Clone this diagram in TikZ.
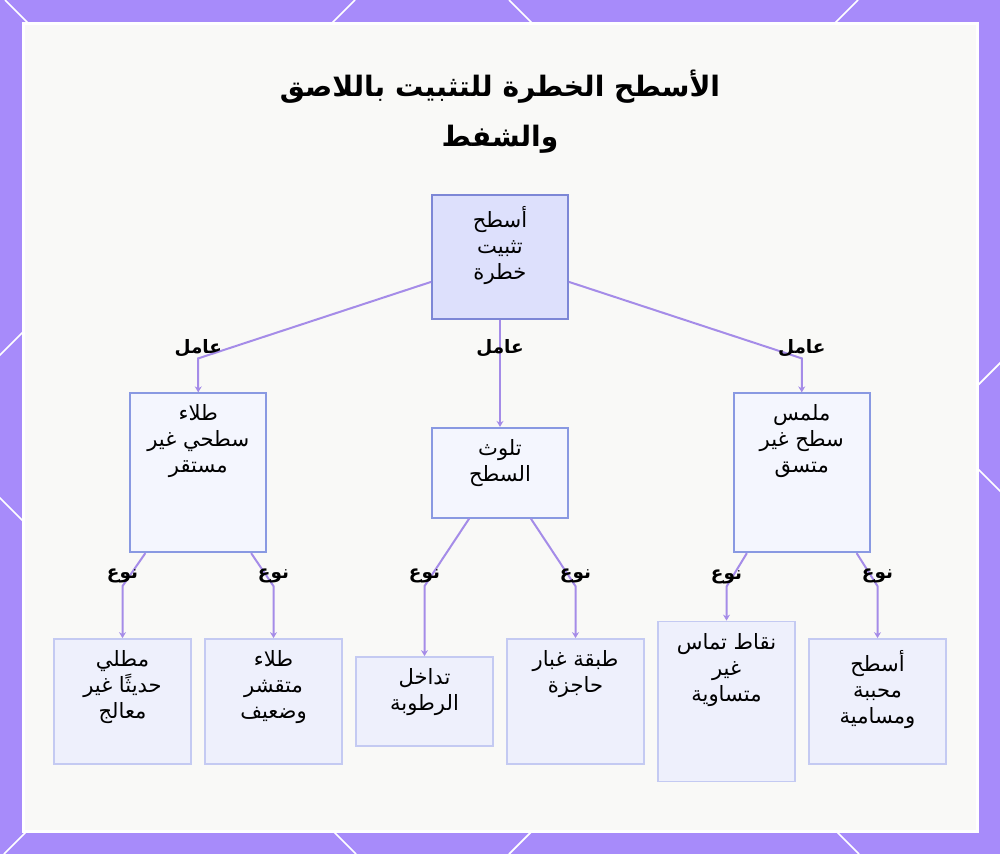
\documentclass[tikz,border=0pt]{standalone}
\usepackage{fontspec}
\newfontfamily\arabicfont[Script=Arabic]{DejaVu Sans}
\TeXXeTstate=1
\usetikzlibrary{positioning,calc,arrows.meta}
\definecolor{framepurple}{RGB}{167,139,250}
\definecolor{edgepurple}{RGB}{165,140,232}
\definecolor{panelgray}{RGB}{249,249,247}
\definecolor{rootfill}{RGB}{221,224,252}
\definecolor{rootline}{RGB}{125,135,214}
\definecolor{factfill}{RGB}{244,246,254}
\definecolor{factline}{RGB}{137,153,226}
\definecolor{kindfill}{RGB}{238,240,252}
\definecolor{kindline}{RGB}{196,202,242}

\begin{document}
\begin{tikzpicture}[
            x=0.2mm, y=-0.2mm,
            node distance=2.45mm, % gap between the bottom boxes
            rootbox/.style={rectangle, draw=rootline, fill=rootfill, line width=0.35mm, minimum width=27.2mm, minimum height=24.8mm},
            factbox/.style={rectangle, draw=factline, fill=factfill, line width=0.35mm, minimum width=27.2mm},
            kindbox/.style={rectangle, draw=kindline, fill=kindfill, line width=0.35mm, minimum width=27.4mm},
            boxtext/.style={anchor=north, yshift=-2.4mm, inner sep=0pt, align=center, font=\fontsize{12}{14.8}\selectfont\arabicfont},
            edge/.style={draw=edgepurple, line width=0.4mm, -{Stealth[length=1.2mm, width=1.4mm]}},
            lab/.style={font=\fontsize{10.5}{12}\selectfont\arabicfont\bfseries, inner sep=0pt, yshift=2mm}
        ]
        \useasboundingbox (0,0) rectangle (1000,854);

        % frame with diagonal lines
        \fill[framepurple] (0,0) rectangle (1000,854);
        \begin{scope}
            \clip (0,0) rectangle (1000,854);
            \foreach \c in {-498,5,509}
                \draw[white, line width=0.35mm] (\c,0) -- ++(854,854);
            \foreach \c in {355,858,1363}
                \draw[white, line width=0.35mm] (\c,0) -- ++(-854,854);
        \end{scope}
        \filldraw[fill=panelgray, draw=white, line width=0.6mm] (23,23) rectangle (977,831);

        % title
        \node (title) [align=center, font=\fontsize{16}{28.5}\selectfont\arabicfont\bfseries] at (500,112)
            {\beginR الأسطح الخطرة للتثبيت باللاصق\endR\\\beginR والشفط\endR};

        % boxes
        \node (root) [rootbox, label={[boxtext]north:{\beginR أسطح\endR\\\beginR تثبيت\endR\\\beginR خطرة\endR}}] at (500,257) {};
        \node (dirt) [factbox, minimum height=18mm, below=21.4mm of root, label={[boxtext]north:{\beginR تلوث\endR\\\beginR السطح\endR}}] {};
        \node (paint) [factbox, minimum height=31.8mm, left=32.8mm of dirt, label={[boxtext]north:{\beginR طلاء\endR\\\beginR سطحي غير\endR\\\beginR مستقر\endR}}] {};
        \node (rough) [factbox, minimum height=31.8mm, right=32.8mm of dirt, label={[boxtext]north:{\beginR ملمس\endR\\\beginR سطح غير\endR\\\beginR متسق\endR}}] {};

        \node (fresh) [kindbox, minimum height=25mm, label={[boxtext]north:{\beginR مطلي\endR\\\beginR حديثًا غير\endR\\\beginR معالج\endR}}] at (122.5,701.5) {};
        \node (flaky) [kindbox, minimum height=25mm, right=of fresh, label={[boxtext]north:{\beginR طلاء\endR\\\beginR متقشر\endR\\\beginR وضعيف\endR}}] {};
        \node (damp) [kindbox, minimum height=17.8mm, right=of flaky, label={[boxtext]north:{\beginR تداخل\endR\\\beginR الرطوبة\endR}}] {};
        \node (dust) [kindbox, minimum height=25mm, right=of damp, label={[boxtext]north:{\beginR طبقة غبار\endR\\\beginR حاجزة\endR}}] {};
        \node (uneven) [kindbox, minimum height=32mm, right=of dust, label={[boxtext]north:{\beginR نقاط تماس\endR\\\beginR غير\endR\\\beginR متساوية\endR}}] {};
        \node (porous) [kindbox, minimum height=25mm, right=of uneven, label={[boxtext]north:{\beginR أسطح\endR\\\beginR محببة\endR\\\beginR ومسامية\endR}}] {};

        % root to factors
        \draw[edge] ($(root.south west)+(0,-38)$) -- ($(paint.north)+(0,-34)$) node[lab]{\beginR عامل\endR} -- (paint.north);
        \draw[edge] (root.south) -- ($(root.south)+(0,38)$) node[lab]{\beginR عامل\endR} -- (dirt.north);
        \draw[edge] ($(root.south east)+(0,-38)$) -- ($(rough.north)+(0,-34)$) node[lab]{\beginR عامل\endR} -- (rough.north);

        % factors to kinds
        \draw[edge] ($(paint.south west)+(16,0)$) -- ($(fresh.north)+(0,-52)$) node[lab]{\beginR نوع\endR} -- (fresh.north);
        \draw[edge] ($(paint.south east)+(-16,0)$) -- ($(flaky.north)+(0,-52)$) node[lab]{\beginR نوع\endR} -- (flaky.north);
        \draw[edge] ($(dirt.south west)+(38,0)$) -- ($(damp.north)+(0,-70)$) node[lab]{\beginR نوع\endR} -- (damp.north);
        \draw[edge] ($(dirt.south east)+(-38,0)$) -- ($(dust.north)+(0,-52)$) node[lab]{\beginR نوع\endR} -- (dust.north);
        \draw[edge] ($(rough.south west)+(14,0)$) -- ($(uneven.north)+(0,-34)$) node[lab]{\beginR نوع\endR} -- (uneven.north);
        \draw[edge] ($(rough.south east)+(-14,0)$) -- ($(porous.north)+(0,-52)$) node[lab]{\beginR نوع\endR} -- (porous.north);
\end{tikzpicture}
\end{document}
